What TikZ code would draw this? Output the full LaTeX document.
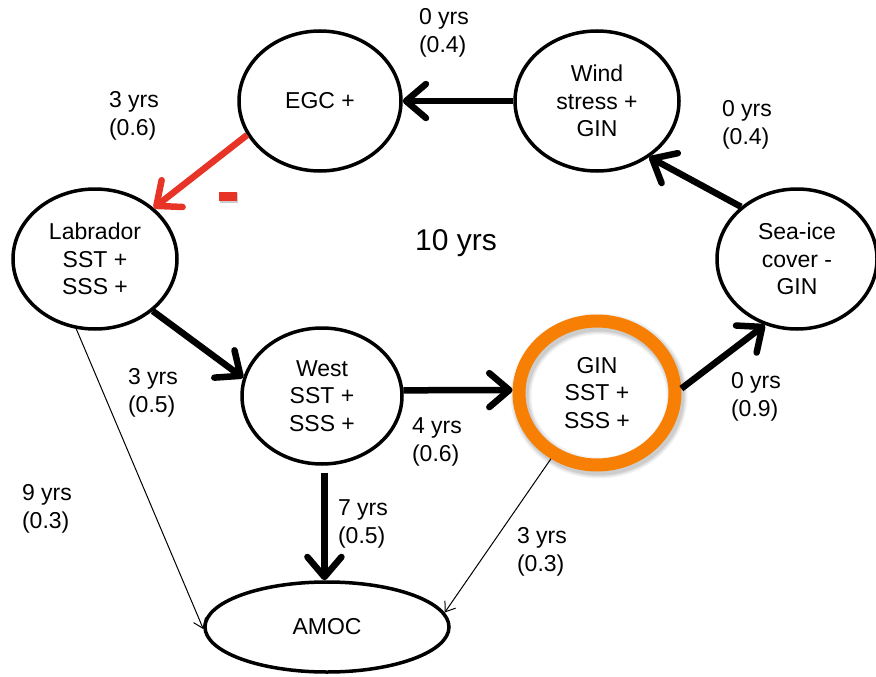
\documentclass[tikz,border=0pt]{standalone}
\usepackage{fontspec}
\setmainfont{Liberation Sans}
\usetikzlibrary{arrows.meta,shapes.geometric,backgrounds}

\definecolor{ringorange}{RGB}{247,128,4}
\definecolor{linkred}{RGB}{232,52,38}

\begin{document}
\begin{tikzpicture}[x=1pt,y=-1pt,
  every node/.style={font=\fontsize{23}{27.5}\selectfont, inner sep=0pt},
  state/.style={ellipse, draw=black, line width=3.5pt, fill=white, align=center},
  hotstate/.style={ellipse, draw=ringorange, line width=13pt, align=center},
  lbl/.style={align=left},
  link/.style={line width=6.5pt, -{Straight Barb[length=20pt,width=34pt,round]}},
  thinlink/.style={line width=1pt, -{Straight Barb[length=9pt,width=13pt]}}]

\useasboundingbox (0,0) rectangle (876,677);

% variables of the feedback loop
\node[state, minimum width=162pt, minimum height=140pt] (egc)  at (320,101) {EGC +};
\node[state, minimum width=164pt, minimum height=140pt] (wind) at (597,101) {Wind\\stress +\\GIN};
\node[state, minimum width=160pt, minimum height=140pt] (sea)  at (797,259) {Sea-ice\\cover -\\GIN};
\node[state, minimum width=164pt, minimum height=140pt] (lab)  at (95,259)  {Labrador\\SST +\\SSS +};
\node[state, minimum width=160pt, minimum height=136pt] (west) at (322,396) {West\\SST +\\SSS +};
\node[hotstate, minimum width=156pt, minimum height=144pt] (gin) at (597,393) {GIN\\SST +\\SSS +};
\node[state, minimum width=244pt, minimum height=90pt] (amoc) at (327,627) {AMOC};

% soft shadow under the highlighted ring
\begin{scope}[on background layer]
  \foreach \w/\o in {21/0.05, 18/0.07, 15/0.09}
    \draw[black, opacity=\o, line width=\w pt] (599,396) ellipse [x radius=78, y radius=72];
\end{scope}

% links of the loop
\draw[link] (wind.180) -- (egc.0);
\draw[link, draw=linkred] (egc.205.6) -- (lab.41);
\draw[link] (lab.318.7) -- (west.167);
\draw[link] (west.4) -- (gin.178);
\draw[link] (gin.3) -- (sea.244);
\draw[link] (sea.137) -- (wind.313);

% links to the overturning
\draw[link, shorten <=7pt] (west.272) -- (west.272 |- amoc.north);
\draw[thinlink] (lab.255) -- (amoc.181);
\draw[thinlink] (gin.235) -- (amoc.7);

% negative sign on the red link
\fill[black, opacity=0.2] (220,193) rectangle (238,203);
\node[fill=linkred, minimum width=18pt, minimum height=9pt] (minus) at (228,196.5) {};

% lags and correlations
\node[lbl] (lwe) at (444,33)  {0 yrs\\(0.4)};
\node[lbl] (lel) at (134,116) {3 yrs\\(0.6)};
\node[lbl] (lsw) at (747,125) {0 yrs\\(0.4)};
\node[lbl] (llw) at (153,393) {3 yrs\\(0.5)};
\node[lbl] (lwg) at (437,442) {4 yrs\\(0.6)};
\node[lbl] (lgs) at (756,397) {0 yrs\\(0.9)};
\node[lbl] (lla) at (47,509)  {9 yrs\\(0.3)};
\node[lbl] (lwa) at (363,524) {7 yrs\\(0.5)};
\node[lbl] (lga) at (542,552) {3 yrs\\(0.3)};

% period of the loop
\node[font=\fontsize{30}{34}\selectfont] (period) at (456,243) {10 yrs};
\end{tikzpicture}
\end{document}
